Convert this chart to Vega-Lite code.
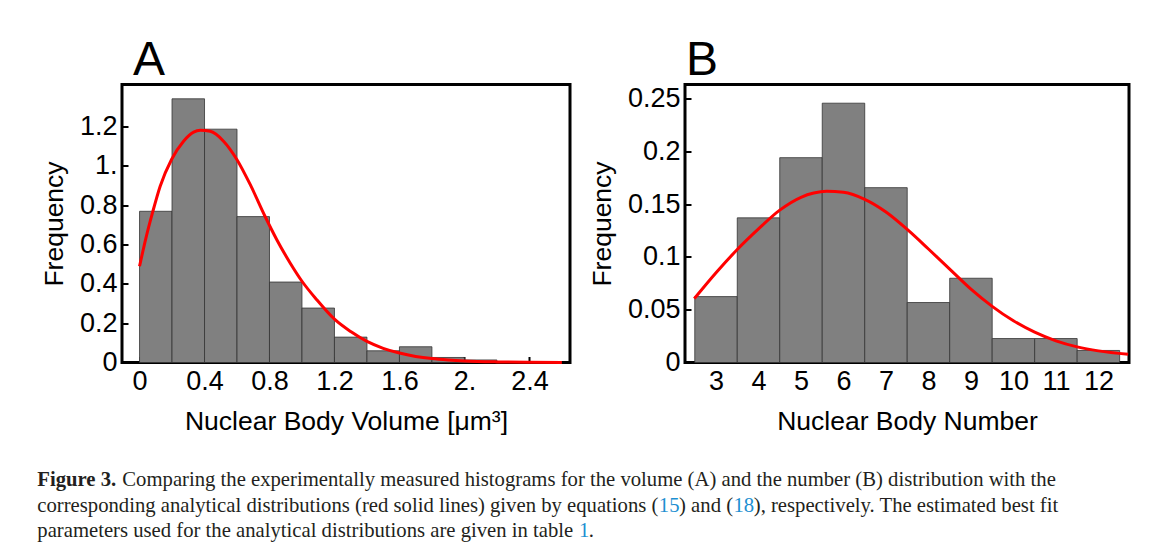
{
  "$schema": "https://vega.github.io/schema/vega-lite/v6.json",
  "background": "white",
  "padding": {"left": 37, "top": 34.5, "right": 0, "bottom": 0},
  "autosize": {"type": "pad"},
  "datasets": {
    "bars_a": [
      {"start": 0.0, "end": 0.2, "freq": 0.7686},
      {"start": 0.2, "end": 0.4, "freq": 1.3403},
      {"start": 0.4, "end": 0.6, "freq": 1.186},
      {"start": 0.6, "end": 0.8, "freq": 0.7415},
      {"start": 0.8, "end": 1.0, "freq": 0.409},
      {"start": 1.0, "end": 1.2, "freq": 0.2767},
      {"start": 1.2, "end": 1.4, "freq": 0.129},
      {"start": 1.4, "end": 1.6, "freq": 0.0595},
      {"start": 1.6, "end": 1.8, "freq": 0.08},
      {"start": 1.8, "end": 2.0, "freq": 0.0255},
      {"start": 2.0, "end": 2.2, "freq": 0.013}
    ],
    "curve_a": [
      {"v": 0.0, "f": 0.489}, {"v": 0.04, "f": 0.635}, {"v": 0.082, "f": 0.768},
      {"v": 0.127, "f": 0.896}, {"v": 0.197, "f": 1.032}, {"v": 0.271, "f": 1.125},
      {"v": 0.333, "f": 1.171}, {"v": 0.374, "f": 1.18}, {"v": 0.435, "f": 1.175},
      {"v": 0.517, "f": 1.125}, {"v": 0.599, "f": 1.032}, {"v": 0.681, "f": 0.905},
      {"v": 0.773, "f": 0.742}, {"v": 0.845, "f": 0.624}, {"v": 0.927, "f": 0.506},
      {"v": 1.0, "f": 0.413}, {"v": 1.091, "f": 0.319}, {"v": 1.2, "f": 0.22},
      {"v": 1.3, "f": 0.157}, {"v": 1.4, "f": 0.107}, {"v": 1.5, "f": 0.072},
      {"v": 1.6, "f": 0.048}, {"v": 1.7, "f": 0.031}, {"v": 1.8, "f": 0.02},
      {"v": 1.9, "f": 0.013}, {"v": 2.0, "f": 0.008}, {"v": 2.2, "f": 0.003},
      {"v": 2.4, "f": 0.001}, {"v": 2.6, "f": 0.0003}
    ],
    "bars_b": [
      {"start": 2.5, "end": 3.5, "freq": 0.0624},
      {"start": 3.5, "end": 4.5, "freq": 0.137},
      {"start": 4.5, "end": 5.5, "freq": 0.194},
      {"start": 5.5, "end": 6.5, "freq": 0.2456},
      {"start": 6.5, "end": 7.5, "freq": 0.1656},
      {"start": 7.5, "end": 8.5, "freq": 0.0568},
      {"start": 8.5, "end": 9.5, "freq": 0.0798},
      {"start": 9.5, "end": 10.5, "freq": 0.0227},
      {"start": 10.5, "end": 11.5, "freq": 0.0227},
      {"start": 11.5, "end": 12.5, "freq": 0.0114}
    ],
    "curve_b": [
      {"v": 2.49, "f": 0.0605}, {"v": 3.0, "f": 0.085}, {"v": 3.5, "f": 0.107},
      {"v": 4.0, "f": 0.1265}, {"v": 4.5, "f": 0.1443}, {"v": 5.0, "f": 0.1565},
      {"v": 5.3, "f": 0.1605}, {"v": 5.6, "f": 0.1622}, {"v": 6.0, "f": 0.1612},
      {"v": 6.5, "f": 0.1545}, {"v": 7.0, "f": 0.1425}, {"v": 7.5, "f": 0.126},
      {"v": 8.0, "f": 0.1075}, {"v": 8.5, "f": 0.0885}, {"v": 9.0, "f": 0.0695},
      {"v": 9.5, "f": 0.0532}, {"v": 10.0, "f": 0.0395}, {"v": 10.5, "f": 0.0287},
      {"v": 11.0, "f": 0.0205}, {"v": 11.5, "f": 0.0148}, {"v": 12.0, "f": 0.011},
      {"v": 12.7, "f": 0.0078}
    ],
    "caption": [
      {"line": 1, "part": "bold", "text": "Figure 3."},
      {"line": 1, "part": "rest", "text": "Comparing the experimentally measured histograms for the volume (A) and the number (B) distribution with the"},
      {"line": 2, "part": "body", "text": "corresponding analytical distributions (red solid lines) given by equations (\u00a0\u00a0\u00a0\u00a0) and (\u00a0\u00a0\u00a0\u00a0), respectively. The estimated best fit"},
      {"line": 2, "part": "ref1", "text": "15"},
      {"line": 2, "part": "ref2", "text": "18"},
      {"line": 3, "part": "body", "text": "parameters used for the analytical distributions are given in table \u00a0\u00a0."},
      {"line": 3, "part": "ref3", "text": "1"}
    ]
  },
  "config": {
    "view": {"stroke": "black", "strokeWidth": 3},
    "axis": {
      "domain": false,
      "grid": false,
      "ticks": true,
      "tickColor": "black",
      "tickWidth": 2,
      "tickSize": -6,
      "labelFont": "Liberation Sans",
      "labelFontSize": 27,
      "labelColor": "black",
      "labelFlush": false,
      "labelOverlap": false,
      "titleFont": "Liberation Sans",
      "titleFontSize": 26.5,
      "titleFontWeight": "normal",
      "titleColor": "black",
      "zindex": 1
    },
    "axisX": {"labelPadding": 12, "titlePadding": 14},
    "axisY": {"labelPadding": 11, "titlePadding": 11}
  },
  "vconcat": [
    {
      "hconcat": [
        {
          "width": 448,
          "height": 278,
          "title": {"text": "A", "anchor": "start", "frame": "group", "fontSize": 48, "fontWeight": "normal", "font": "Liberation Sans", "offset": 0, "dx": 11, "color": "black"},
          "layer": [
            {
              "data": {"name": "bars_a"},
              "mark": {"type": "bar", "fill": "#808080", "stroke": "#333333", "strokeWidth": 0.8},
              "encoding": {
                "x": {"field": "start", "type": "quantitative", "scale": {"domain": [-0.108, 2.65], "nice": false, "zero": false},
                      "axis": {"values": [0, 0.4, 0.8, 1.2, 1.6, 2, 2.4], "format": "~g", "title": "Nuclear Body Volume [μm³]", "labelExpr": "datum.value == 2 ? '2.' : datum.label"}},
                "x2": {"field": "end"},
                "y": {"field": "freq", "type": "quantitative", "scale": {"domain": [0, 1.413], "nice": false},
                      "axis": {"values": [0, 0.2, 0.4, 0.6, 0.8, 1, 1.2], "format": "~g", "title": "Frequency", "labelExpr": "datum.value == 1 ? '1.' : datum.label"}},
                "y2": {"datum": 0}
              }
            },
            {
              "data": {"name": "curve_a"},
              "mark": {"type": "line", "color": "#ff0000", "strokeWidth": 3, "interpolate": "monotone"},
              "encoding": {
                "x": {"field": "v", "type": "quantitative"},
                "y": {"field": "f", "type": "quantitative"}
              }
            }
          ]
        },
        {
          "width": 444,
          "height": 278,
          "title": {"text": "B", "anchor": "start", "frame": "group", "fontSize": 48, "fontWeight": "normal", "font": "Liberation Sans", "offset": 0, "dx": 1, "color": "black"},
          "layer": [
            {
              "data": {"name": "bars_b"},
              "mark": {"type": "bar", "fill": "#808080", "stroke": "#333333", "strokeWidth": 0.8},
              "encoding": {
                "x": {"field": "start", "type": "quantitative", "scale": {"domain": [2.27, 12.72], "nice": false, "zero": false},
                      "axis": {"values": [3, 4, 5, 6, 7, 8, 9, 10, 11, 12], "format": "~g", "title": "Nuclear Body Number"}},
                "x2": {"field": "end"},
                "y": {"field": "freq", "type": "quantitative", "scale": {"domain": [0, 0.2633], "nice": false},
                      "axis": {"values": [0, 0.05, 0.1, 0.15, 0.2, 0.25], "format": "~g", "title": "Frequency"}},
                "y2": {"datum": 0}
              }
            },
            {
              "data": {"name": "curve_b"},
              "mark": {"type": "line", "color": "#ff0000", "strokeWidth": 3, "interpolate": "monotone"},
              "encoding": {
                "x": {"field": "v", "type": "quantitative"},
                "y": {"field": "f", "type": "quantitative"}
              }
            }
          ]
        }
      ],
      "spacing": 15
    },
    {
      "width": 1000,
      "height": 76.5,
      "view": {"stroke": null},
      "data": {"name": "caption"},
      "encoding": {
        "x": {"datum": 0, "type": "quantitative", "scale": {"domain": [0, 1]}, "axis": null},
        "y": {"field": "line", "type": "ordinal", "axis": null},
        "text": {"field": "text"}
      },
      "layer": [
        {"transform": [{"filter": "datum.part == 'bold'"}],
         "mark": {"type": "text", "align": "left", "baseline": "alphabetic", "font": "Liberation Serif", "fontSize": 20.7, "fontWeight": "bold", "color": "#231f20", "dx": -84.7}},
        {"transform": [{"filter": "datum.part == 'rest'"}],
         "mark": {"type": "text", "align": "left", "baseline": "alphabetic", "font": "Liberation Serif", "fontSize": 20.7, "color": "#231f20", "dx": 0.3}},
        {"transform": [{"filter": "datum.part == 'body'"}],
         "mark": {"type": "text", "align": "left", "baseline": "alphabetic", "font": "Liberation Serif", "fontSize": 20.7, "color": "#231f20", "dx": -84.7}},
        {"transform": [{"filter": "datum.part == 'ref1'"}],
         "mark": {"type": "text", "align": "left", "baseline": "alphabetic", "font": "Liberation Serif", "fontSize": 20.7, "color": "#1d8fd1", "dx": 536.8}},
        {"transform": [{"filter": "datum.part == 'ref2'"}],
         "mark": {"type": "text", "align": "left", "baseline": "alphabetic", "font": "Liberation Serif", "fontSize": 20.7, "color": "#1d8fd1", "dx": 611.5}},
        {"transform": [{"filter": "datum.part == 'ref3'"}],
         "mark": {"type": "text", "align": "left", "baseline": "alphabetic", "font": "Liberation Serif", "fontSize": 20.7, "color": "#1d8fd1", "dx": 456.9}}
      ]
    }
  ],
  "spacing": 32
}
